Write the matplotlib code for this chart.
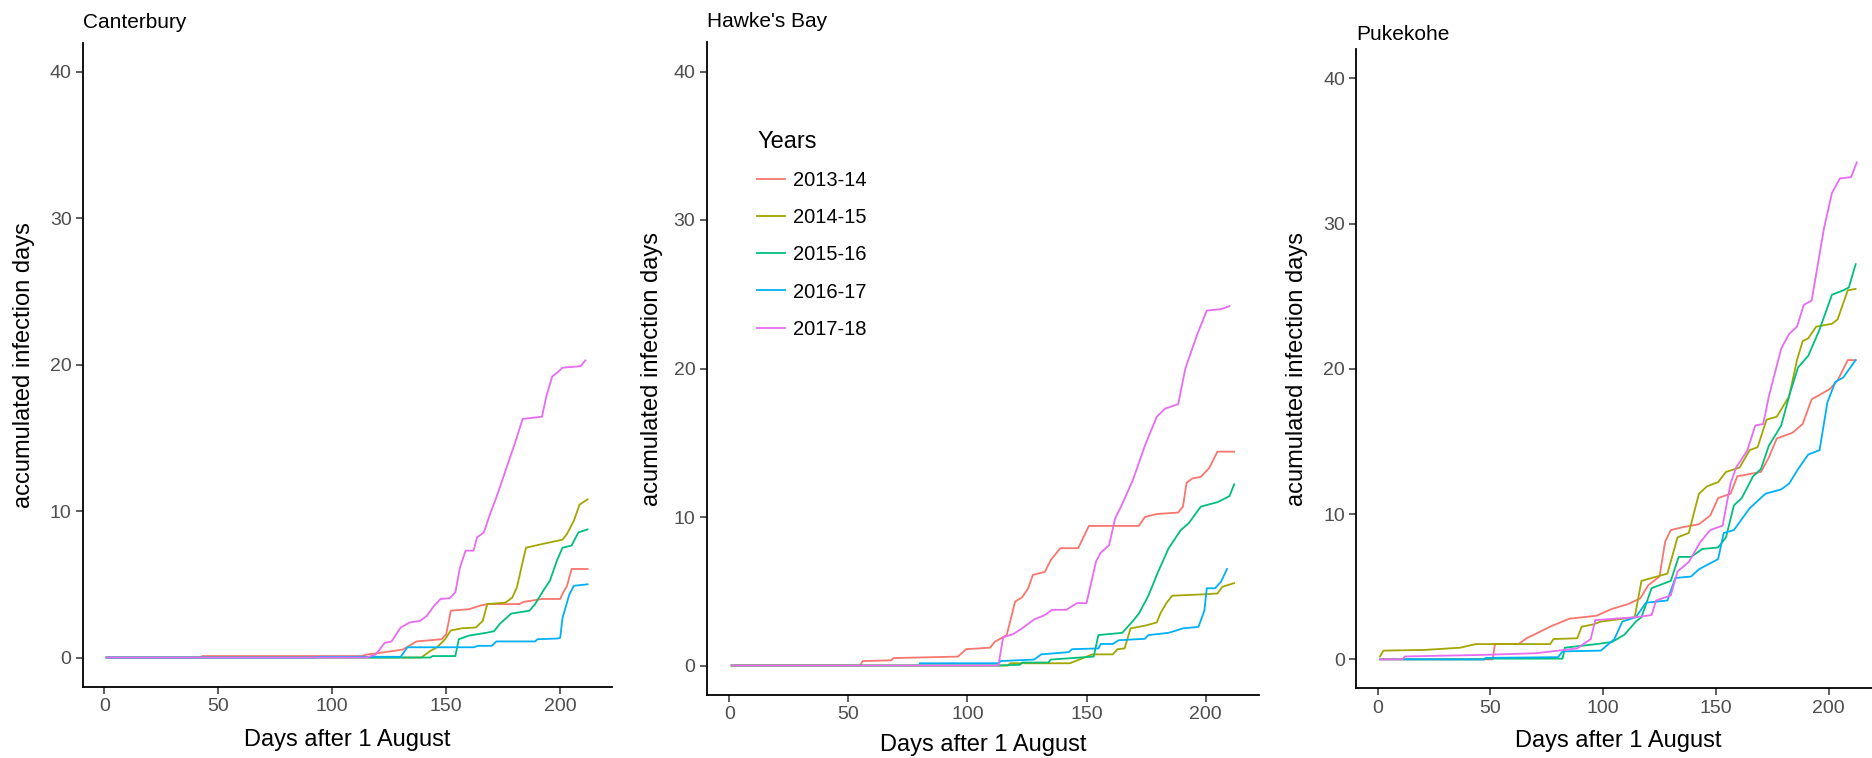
import matplotlib
matplotlib.use('Agg')
import matplotlib.pyplot as plt

plt.rcParams['font.family'] = ['Liberation Sans', 'DejaVu Sans']

years = ['2013-14', '2014-15', '2015-16', '2016-17', '2017-18']
colors = ['#F8766D', '#A3A500', '#00BF7D', '#00B0F6', '#E76BF3']

# Canterbury - accumulated infection days
cant_1314_day = [1, 42, 43, 113, 115, 127, 131, 137, 148, 150, 152, 160, 165, 168, 182, 184, 192, 200, 201, 203, 205, 212]
cant_1314_val = [0, 0, 0.1, 0.1, 0.2, 0.45, 0.55, 1.1, 1.25, 1.6, 3.2, 3.3, 3.55, 3.65, 3.65, 3.8, 4.0, 4.0, 4.35, 4.9, 6.05, 6.05]
cant_1415_day = [1, 139, 143, 146, 149.5, 152, 157, 163, 166, 168, 176, 179, 181, 184, 185, 192, 201, 203, 206, 208.5, 212]
cant_1415_val = [0, 0, 0.45, 0.7, 1.25, 1.85, 2.0, 2.05, 2.5, 3.65, 3.75, 4.1, 4.8, 6.85, 7.5, 7.75, 8.05, 8.45, 9.35, 10.45, 10.8]
cant_1516_day = [1, 143, 144, 154, 155.5, 160, 168, 171, 173.5, 178.5, 186.5, 189, 192.5, 195.5, 198.5, 201, 205, 208, 212]
cant_1516_val = [0, 0, 0.1, 0.1, 1.25, 1.5, 1.7, 1.8, 2.3, 3.0, 3.2, 3.65, 4.55, 5.25, 6.6, 7.5, 7.65, 8.55, 8.75]
cant_1617_day = [1, 93, 94, 130, 133, 162, 164, 170, 172, 189, 190, 199, 200, 201, 204, 206, 212]
cant_1617_val = [0, 0, 0.05, 0.05, 0.7, 0.7, 0.8, 0.8, 1.1, 1.1, 1.25, 1.3, 1.35, 2.7, 4.3, 4.9, 5.0]
cant_1718_day = [1, 115, 119, 123, 126, 130, 134, 138.5, 141.5, 144.5, 147.5, 151.5, 154, 156, 158.5, 162, 163.5, 166.5,
                 169, 172, 175, 178.5, 181, 183.5, 192, 194, 196.5, 199, 201, 209, 211]
cant_1718_val = [0, 0, 0.2, 1.0, 1.1, 2.05, 2.4, 2.5, 2.85, 3.5, 4.0, 4.05, 4.45, 6.15, 7.3, 7.3, 8.2, 8.55,
                 9.7, 10.95, 12.3, 13.9, 15.05, 16.3, 16.45, 17.9, 19.2, 19.5, 19.8, 19.9, 20.3]

# Hawke's Bay
hb_1314_day = [1, 55, 56, 68, 69, 96, 99.5, 109.5, 111.5, 116.5, 118, 120, 123, 125.5, 127.5, 132.5, 135, 139, 146.5,
               151, 172, 174.5, 179.5, 188.5, 190.5, 192, 194.5, 198, 201.5, 205, 212]
hb_1314_val = [0, 0, 0.3, 0.35, 0.5, 0.6, 1.1, 1.2, 1.6, 2.05, 3.0, 4.3, 4.6, 5.2, 6.1, 6.3, 7.1, 7.9, 7.9,
               9.4, 9.4, 10.0, 10.2, 10.3, 10.7, 12.3, 12.6, 12.7, 13.3, 14.4, 14.4]
hb_1415_day = [1, 117, 118, 143, 147, 152.5, 161, 163, 166, 168.5, 175, 179.5, 181, 183.5, 186, 200, 205, 207, 212]
hb_1415_val = [0, 0, 0.15, 0.15, 0.4, 0.75, 0.75, 1.1, 1.15, 2.5, 2.7, 2.9, 3.5, 4.2, 4.7, 4.8, 4.85, 5.3, 5.55]
hb_1516_day = [1, 113, 122, 123, 134, 135, 153, 155, 165, 169.5, 172, 176, 179.5, 184.5, 189.5, 193, 198, 205, 210, 212]
hb_1516_val = [0, 0, 0.05, 0.2, 0.2, 0.4, 0.6, 2.05, 2.2, 3.0, 3.5, 4.7, 6.1, 7.9, 9.1, 9.6, 10.7, 11.0, 11.4, 12.2]
hb_1617_day = [80, 113, 114, 128, 131, 142.5, 144, 155, 156, 161, 163.5, 174.5, 176, 184.5, 190.5, 197, 199.5, 200.5,
               204, 206.5, 209]
hb_1617_val = [0.15, 0.15, 0.3, 0.4, 0.75, 0.9, 1.1, 1.15, 1.45, 1.45, 1.7, 1.8, 2.05, 2.2, 2.5, 2.6, 3.7, 5.2,
               5.2, 5.65, 6.5]
hb_1718_day = [1, 113, 115, 119, 123, 128, 132.5, 135.5, 141.5, 146, 150, 154, 156, 159.5, 162, 164.5, 169.5, 174.5,
               179.5, 183, 188.5, 191.5, 196.5, 200.5, 206.5, 210]
hb_1718_val = [0, 0, 1.9, 2.1, 2.5, 3.1, 3.4, 3.75, 3.75, 4.2, 4.2, 7.0, 7.6, 8.1, 9.9, 10.7, 12.5, 14.8,
               16.75, 17.3, 17.6, 20.0, 22.3, 23.9, 24.0, 24.2]

# Pukekohe
puk_1314_day = [1, 51, 52, 62.5, 66, 72, 76.5, 85, 97, 103.5, 111, 116.5, 120, 125, 127.5, 130, 135.5, 142.5, 147.5,
                151, 156.5, 159.5, 170, 173.5, 177, 184, 188.5, 192.5, 200.5, 204, 208.5, 212]
puk_1314_val = [0, 0, 1.05, 1.05, 1.45, 1.9, 2.25, 2.8, 3.0, 3.45, 3.8, 4.2, 5.1, 5.7, 8.1, 8.9, 9.1, 9.3, 9.9,
                11.1, 11.4, 12.6, 12.9, 13.9, 15.2, 15.6, 16.2, 17.9, 18.6, 19.2, 20.6, 20.6]
puk_1415_day = [1, 2.5, 21, 36.5, 43.5, 76.5, 78, 88.5, 90.5, 95.5, 99, 114, 117, 121.5, 128.5, 133, 138, 142.5, 146,
                151, 154.5, 160.5, 165, 168.5, 172.5, 177, 182.5, 186, 188.5, 191, 194.5, 201.5, 204, 208.5, 212]
puk_1415_val = [0.2, 0.6, 0.65, 0.8, 1.05, 1.05, 1.4, 1.45, 2.25, 2.4, 2.6, 2.9, 5.4, 5.6, 5.9, 8.4, 8.7, 11.4, 11.9,
                12.2, 12.9, 13.2, 14.4, 14.6, 16.5, 16.7, 18.1, 20.6, 21.9, 22.1, 22.9, 23.1, 23.4, 25.4, 25.5]
puk_1516_day = [1, 47.5, 48, 82, 83, 97, 104, 109.5, 114.5, 117, 121.5, 130, 133.5, 139, 144, 151, 154.5, 158, 161.5,
                166.5, 170, 173.5, 179, 183, 186.5, 191, 196, 201.5, 206.5, 209, 212]
puk_1516_val = [0, 0, 0.05, 0.05, 0.8, 1.05, 1.2, 1.7, 2.6, 2.9, 4.9, 5.4, 7.05, 7.05, 7.6, 7.7, 8.4, 10.6, 11.1,
                12.6, 13.1, 14.7, 16.1, 18.4, 20.1, 20.9, 22.7, 25.1, 25.4, 25.6, 27.2]
puk_1617_day = [12, 47, 48, 80, 82, 99, 105, 108.5, 114.5, 119, 128.5, 132, 139, 142.5, 151, 153.5, 158, 165, 172,
                179, 182.5, 186.5, 191, 196, 199.5, 203, 206.5, 212]
puk_1617_val = [0, 0, 0.1, 0.15, 0.55, 0.6, 1.4, 2.6, 2.9, 3.9, 4.05, 5.6, 5.7, 6.2, 6.9, 8.7, 8.9, 10.4, 11.4,
                11.7, 12.1, 13.1, 14.1, 14.4, 17.7, 19.1, 19.4, 20.6]
puk_1718_day = [1, 11, 12, 45, 70, 88.5, 94.5, 96.5, 114.5, 121.5, 123.5, 130, 133, 138, 143, 147.5, 153, 156.5, 159,
                164, 167.5, 171, 173.5, 179, 182.5, 186, 189, 192.5, 198, 201.5, 205, 210, 212.5]
puk_1718_val = [0, 0, 0.2, 0.3, 0.42, 0.75, 1.4, 2.7, 2.9, 3.05, 4.05, 4.4, 6.05, 6.7, 8.05, 8.9, 9.2, 12.1, 13.2,
                14.4, 16.1, 16.2, 18.1, 21.4, 22.4, 22.9, 24.4, 24.7, 29.7, 32.1, 33.1, 33.2, 34.2]

panels = [
    ('Canterbury', 'accumulated infection days',
     [(cant_1314_day, cant_1314_val), (cant_1415_day, cant_1415_val), (cant_1516_day, cant_1516_val),
      (cant_1617_day, cant_1617_val), (cant_1718_day, cant_1718_val)]),
    ("Hawke's Bay", 'acumulated infection days',
     [(hb_1314_day, hb_1314_val), (hb_1415_day, hb_1415_val), (hb_1516_day, hb_1516_val),
      (hb_1617_day, hb_1617_val), (hb_1718_day, hb_1718_val)]),
    ('Pukekohe', 'acumulated infection days',
     [(puk_1314_day, puk_1314_val), (puk_1415_day, puk_1415_val), (puk_1516_day, puk_1516_val),
      (puk_1617_day, puk_1617_val), (puk_1718_day, puk_1718_val)]),
]

W, H = 1872, 758
fig = plt.figure(figsize=(W / 100, H / 100), dpi=100)

# axes boxes in pixels: left, top, right, bottom (three separate ggplots glued together)
boxes = [(82.6, 42.7, 611.6, 686.8), (706.5, 41.8, 1259.3, 695.2), (1356.2, 49.2, 1879.4, 688.4)]
title_pos = [(83, 27.5), (706.7, 27), (1356.7, 39.5)]
ylab_x = [24, 652, 1297]
xlab_y = [740, 745, 741]

axes = []
for i, (name, ylab, series) in enumerate(panels):
    l, t, r, b = boxes[i]
    ax = fig.add_axes([l / W, 1 - b / H, (r - l) / W, (b - t) / H])
    for (d, v), c, yr in zip(series, colors, years):
        ax.plot(d, v, color=c, lw=1.3, label=yr)
    ax.set_xlim(-9.55, 222.55)
    ax.set_ylim(-2, 42)
    ax.set_xticks([0, 50, 100, 150, 200])
    ax.set_yticks([0, 10, 20, 30, 40])
    for s in ['top', 'right']:
        ax.spines[s].set_visible(False)
    for s in ['left', 'bottom']:
        ax.spines[s].set_linewidth(1.3)
        ax.spines[s].set_color('black')
    ax.tick_params(length=5, width=1.1, color='#333333', labelcolor='#4D4D4D', labelsize=14, pad=3)
    fig.text(title_pos[i][0] / W, 1 - title_pos[i][1] / H, name, fontsize=15, color='black',
             ha='left', va='baseline')
    fig.text((l + r) / 2 / W, 1 - xlab_y[i] / H, 'Days after 1 August', fontsize=17,
             ha='center', va='center')
    fig.text(ylab_x[i] / W, 1 - (t + b) / 2 / H, ylab, fontsize=17, rotation=90,
             ha='center', va='center')
    axes.append(ax)

axes[1].legend(title='Years', loc='upper left', bbox_to_anchor=(757 / W, 1 - 131 / H),
               bbox_transform=fig.transFigure, frameon=False, fontsize=14.5, title_fontsize=17,
               alignment='left', handlelength=1.4, handletextpad=0.4, labelspacing=0.9,
               borderpad=0, borderaxespad=0)

plt.savefig('out.png', dpi=100)
